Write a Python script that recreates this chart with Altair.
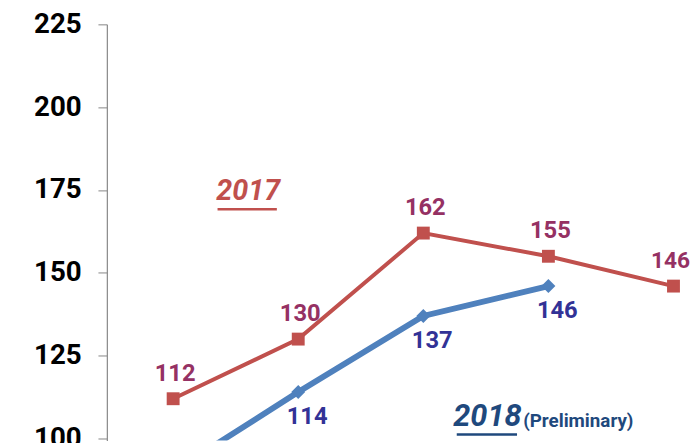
import altair as alt
import pandas as pd

periods = [1, 2, 3, 4, 5]
values_2017 = [112, 130, 162, 155, 146]
periods_2018 = [1, 2, 3, 4]
values_2018 = [90, 114, 137, 146]
y_ticks = [100, 125, 150, 175, 200, 225]

df17 = pd.DataFrame({"p": periods, "v": values_2017})
df18 = pd.DataFrame({"p": periods_2018, "v": values_2018})

FONT = "Roboto, sans-serif"
RED = "#C0504D"
BLUE = "#4F81BD"
RED_LBL = "#953163"
BLUE_LBL = "#323296"
DARK = "#1F497D"

xs = alt.Scale(domain=[0.47, 5.14], nice=False, zero=False)
ys = alt.Scale(domain=[99.4, 225], nice=False, zero=False)

X = alt.X("p:Q", scale=xs, axis=None)
Y = alt.Y("v:Q", scale=ys, axis=alt.Axis(values=y_ticks, grid=False, title=None,
          domainColor="#868686", tickColor="#868686", tickSize=9, domainWidth=1.2,
          labelFont=FONT, labelFontSize=28, labelFontWeight="bold", labelColor="#000000",
          labelPadding=17))

red_line = alt.Chart(df17).mark_line(color=RED, strokeWidth=4, clip=True).encode(x=X, y=Y)
red_pts = alt.Chart(df17).mark_point(shape="square", filled=True, size=170, color=RED, opacity=1).encode(x=X, y=Y)
red_lbl = alt.Chart(df17[df17.p < 5]).mark_text(font=FONT, fontSize=24, fontWeight="bold", color=RED_LBL, dy=-25, dx=2).encode(
    x=X, y=Y, text="v:Q")
red_lbl_last = alt.Chart(df17[df17.p == 5]).mark_text(font=FONT, fontSize=23, fontWeight="bold", color=RED_LBL, dy=-25, dx=-3).encode(
    x=X, y=Y, text="v:Q")

blue_line = alt.Chart(df18).mark_line(color=BLUE, strokeWidth=6, clip=True).encode(x=X, y=Y)
blue_pts = alt.Chart(df18[df18.v >= 100]).mark_point(shape="diamond", filled=True, size=200, color=BLUE, opacity=1).encode(x=X, y=Y)
blue_lbl = alt.Chart(df18[df18.v >= 100]).mark_text(font=FONT, fontSize=24, fontWeight="bold", color=BLUE_LBL, dy=25, dx=9).encode(
    x=X, y=Y, text="v:Q")

ann = pd.DataFrame({"t": ["2017"]})
t2017 = alt.Chart(ann).mark_text(font=FONT, fontSize=29, fontWeight="bold", fontStyle="italic", color=RED).encode(
    x=alt.value(143), y=alt.value(169), text="t:N")
u2017 = alt.Chart(ann).mark_rule(color=RED, strokeWidth=2.5).encode(x=alt.value(112), x2=alt.value(172), y=alt.value(187))
t2018 = alt.Chart(pd.DataFrame({"t": ["2018"]})).mark_text(font=FONT, fontSize=31, fontWeight="bold", fontStyle="italic", color=DARK).encode(
    x=alt.value(385), y=alt.value(397), text="t:N")
u2018 = alt.Chart(ann).mark_rule(color=DARK, strokeWidth=2.5).encode(x=alt.value(354), x2=alt.value(415), y=alt.value(415))
tpre = alt.Chart(pd.DataFrame({"t": ["(Preliminary)"]})).mark_text(font=FONT, fontSize=19, fontWeight="bold", color=DARK).encode(
    x=alt.value(477), y=alt.value(401), text="t:N")

chart = alt.layer(red_line, blue_line, red_pts, blue_pts, red_lbl, red_lbl_last, blue_lbl,
                  t2017, u2017, t2018, u2018, tpre).properties(
    width=591, height=421,
    autosize=alt.AutoSizeParams(type="none"),
    padding={"left": 100, "top": 14, "right": 0, "bottom": 0},
    background="white",
).configure_view(stroke=None)

chart.save("out.html", embed_options={"renderer": "svg", "actions": False})
